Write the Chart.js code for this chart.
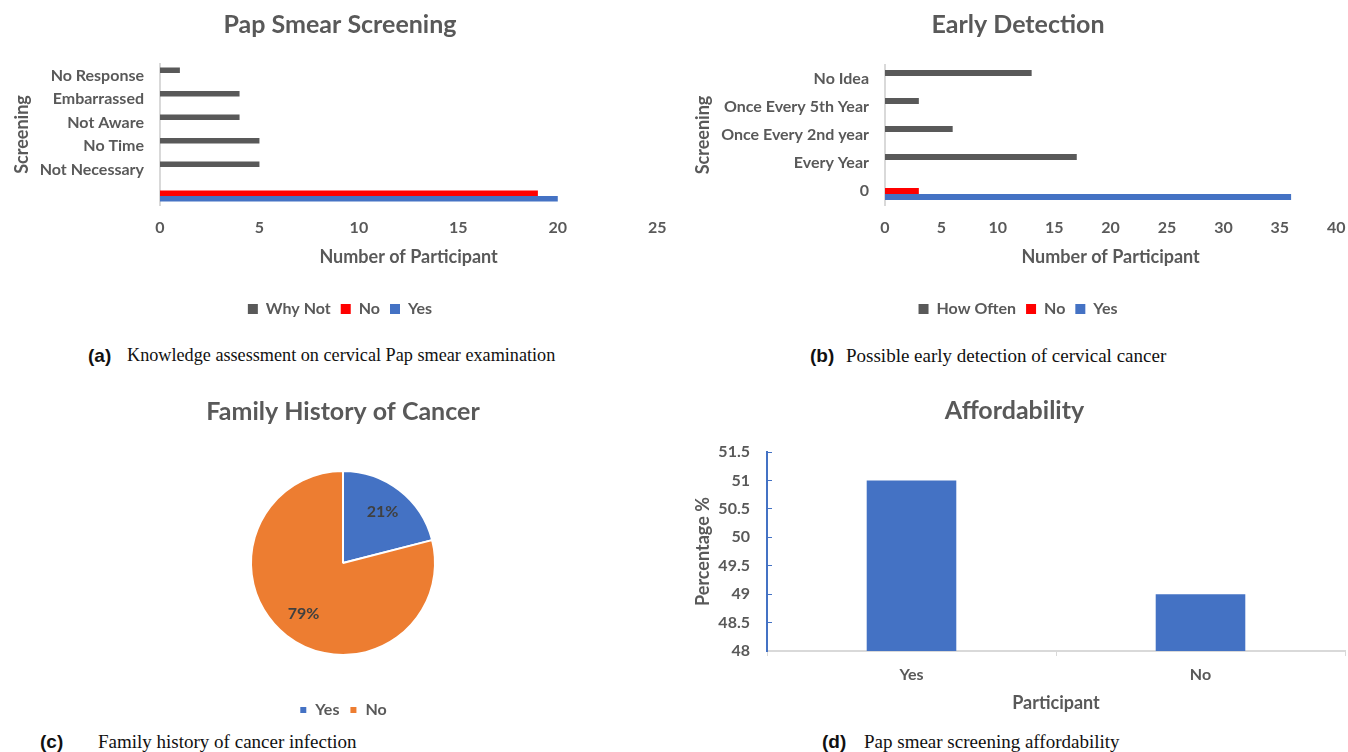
<!DOCTYPE html>
<html>
<head>
<meta charset="utf-8">
<script src="https://cdn.jsdelivr.net/npm/chart.js@4/dist/chart.umd.min.js"></script>
<style>
  body { margin: 0; background: #fff; width: 1348px; height: 752px; position: relative; overflow: hidden; }
  canvas { position: absolute; }
  .cap { position: absolute; white-space: nowrap; line-height: 1; }
  .tag { font: bold 19px "Liberation Sans", Arial, sans-serif; color: #111; }
  .txt { font: 19px "Liberation Serif", "Times New Roman", serif; color: #111; }
</style>
</head>
<body>
<canvas id="pap-chart" width="680" height="330" style="left:0;top:0"></canvas>
<canvas id="early-chart" width="682" height="330" style="left:677px;top:0"></canvas>
<canvas id="family-chart" width="686" height="348" style="left:0;top:380px"></canvas>
<canvas id="afford-chart" width="664" height="340" style="left:684px;top:380px"></canvas>

<div class="cap tag" style="left:88px;top:345px">(a)</div>
<div class="cap txt" style="left:127px;top:345px;font-size:18.2px">Knowledge assessment on cervical Pap smear examination</div>
<div class="cap tag" style="left:810px;top:345px">(b)</div>
<div class="cap txt" style="left:846px;top:345px">Possible early detection of cervical cancer</div>
<div class="cap tag" style="left:40px;top:731px">(c)</div>
<div class="cap txt" style="left:98px;top:731px">Family history of cancer infection</div>
<div class="cap tag" style="left:822px;top:731px">(d)</div>
<div class="cap txt" style="left:864px;top:731px">Pap smear screening affordability</div>

<script>
// (a) Pap smear screening
const papCategories = ["", "Not Necessary", "No Time", "Not Aware", "Embarrassed", "No Response"];
const papWhyNot = [null, 5, 5, 4, 4, 1];
const papNo = [19, null, null, null, null, null];
const papYes = [20, null, null, null, null, null];

// (b) Early detection
const earlyCategories = ["0", "Every Year", "Once Every 2nd year", "Once Every 5th Year", "No Idea"];
const earlyHowOften = [null, 17, 6, 3, 13];
const earlyNo = [3, null, null, null, null];
const earlyYes = [36, null, null, null, null];

// (c) Family history of cancer (%)
const familyLabels = ["Yes", "No"];
const familyValues = [21, 79];

// (d) Affordability (%)
const affordLabels = ["Yes", "No"];
const affordValues = [51, 49];

const GRAY = "#595959";
const RED = "#FF0000";
const BLUE = "#4472C4";
const ORANGE = "#ED7D31";
const LINE = "#D9D9D9";

Chart.defaults.font.family = "Lato, 'Open Sans', sans-serif";
Chart.defaults.font.weight = "bold";
Chart.defaults.color = GRAY;
Chart.defaults.animation = false;

function titleOpts(text, top, bottom) {
    return {
        display: true,
        text: text,
        color: GRAY,
        font: { size: 25, weight: "bold" },
        padding: { top: top, bottom: bottom }
    };
}

function legendOpts(box) {
    return {
        position: "bottom",
        labels: {
            boxWidth: box,
            boxHeight: box,
            padding: 10,
            color: GRAY,
            font: { size: 16, weight: "bold" }
        }
    };
}

function screeningChart(id, title, categories, datasets, xMax, yWidth, yTitlePad, catPct, titleBottom) {
    return new Chart(document.getElementById(id), {
        type: "bar",
        data: { labels: categories, datasets: datasets },
        options: {
            responsive: false,
            devicePixelRatio: 1,
            indexAxis: "y",
            layout: { padding: { left: 0, right: 0, top: 0, bottom: 3 } },
            datasets: { bar: { categoryPercentage: catPct, barPercentage: 1 } },
            plugins: {
                title: titleOpts(title, 10, titleBottom),
                legend: legendOpts(10),
                tooltip: { enabled: false }
            },
            scales: {
                x: {
                    min: 0,
                    max: xMax,
                    ticks: { stepSize: 5, padding: 13.5, font: { size: 16 } },
                    grid: { display: false, drawTicks: false },
                    border: { display: false },
                    title: {
                        display: true,
                        text: "Number of Participant",
                        font: { size: 18, weight: "bold" },
                        padding: { top: 4, bottom: 23.2 }
                    },
                    afterFit: s => { s.height = 86; }
                },
                y: {
                    reverse: true,
                    ticks: { padding: 16, font: { size: 16 } },
                    grid: { display: false, drawTicks: false },
                    border: { color: LINE, width: 2 },
                    title: {
                        display: true,
                        text: "Screening",
                        font: { size: 18, weight: "bold" },
                        padding: { top: yTitlePad, bottom: 0 }
                    },
                    afterFit: s => { s.width = yWidth; }
                }
            }
        }
    });
}

screeningChart("pap-chart", "Pap Smear Screening", papCategories, [
    { label: "Why Not", data: papWhyNot, backgroundColor: GRAY },
    { label: "No", data: papNo, backgroundColor: RED },
    { label: "Yes", data: papYes, backgroundColor: BLUE }
], 25, 160, 11.2, 0.7, 24);

screeningChart("early-chart", "Early Detection", earlyCategories, [
    { label: "How Often", data: earlyHowOften, backgroundColor: GRAY },
    { label: "No", data: earlyNo, backgroundColor: RED },
    { label: "Yes", data: earlyYes, backgroundColor: BLUE }
], 40, 208, 15.2, 0.64, 25);

// percentage labels inside the pie slices
const sliceLabels = {
    id: "sliceLabels",
    afterDatasetsDraw(chart) {
        const ctx = chart.ctx;
        const meta = chart.getDatasetMeta(0);
        ctx.save();
        ctx.font = "bold 16px Lato, sans-serif";
        ctx.fillStyle = "#404040";
        ctx.textAlign = "center";
        ctx.textBaseline = "middle";
        meta.data.forEach((arc, i) => {
            const p = arc.getProps(["x", "y", "startAngle", "endAngle", "outerRadius"], true);
            const mid = (p.startAngle + p.endAngle) / 2;
            const r = p.outerRadius * 0.7;
            ctx.fillText(familyValues[i] + "%", p.x + Math.cos(mid) * r, p.y + Math.sin(mid) * r);
        });
        ctx.restore();
    }
};

new Chart(document.getElementById("family-chart"), {
    type: "pie",
    data: {
        labels: familyLabels,
        datasets: [{
            data: familyValues,
            backgroundColor: [BLUE, ORANGE],
            borderColor: "#ffffff",
            borderWidth: 2,
            radius: 92
        }]
    },
    options: {
        responsive: false,
        devicePixelRatio: 1,
        layout: { padding: 0 },
        plugins: {
            title: titleOpts("Family History of Cancer", 17, 7),
            legend: legendOpts(8),
            tooltip: { enabled: false }
        }
    },
    plugins: [sliceLabels]
});

new Chart(document.getElementById("afford-chart"), {
    type: "bar",
    data: {
        labels: affordLabels,
        datasets: [{ label: "Percentage", data: affordValues, backgroundColor: BLUE }]
    },
    options: {
        responsive: false,
        devicePixelRatio: 1,
        layout: { padding: { left: 0, right: 3, top: 0, bottom: 0 } },
        datasets: { bar: { categoryPercentage: 1, barPercentage: 0.31 } },
        plugins: {
            title: titleOpts("Affordability", 16, 26),
            legend: { display: false },
            tooltip: { enabled: false }
        },
        scales: {
            x: {
                ticks: { padding: 9.4, font: { size: 16 } },
                grid: { drawOnChartArea: false, tickLength: 5, color: LINE },
                border: { color: LINE, width: 2 },
                title: {
                    display: true,
                    text: "Participant",
                    font: { size: 18, weight: "bold" },
                    padding: { top: 4, bottom: 6.2 }
                },
                afterFit: s => { s.height = 69; }
            },
            y: {
                min: 48,
                max: 51.5,
                ticks: { stepSize: 0.5, padding: 22, font: { size: 16 }, callback: v => String(v) },
                grid: { drawOnChartArea: false, tickLength: -5, color: BLUE },
                border: { color: BLUE, width: 2 },
                title: {
                    display: true,
                    text: "Percentage %",
                    font: { size: 18, weight: "bold" },
                    padding: { top: 8.2, bottom: 0 }
                },
                afterFit: s => { s.width = 83; }
            }
        }
    }
});
</script>
</body>
</html>
